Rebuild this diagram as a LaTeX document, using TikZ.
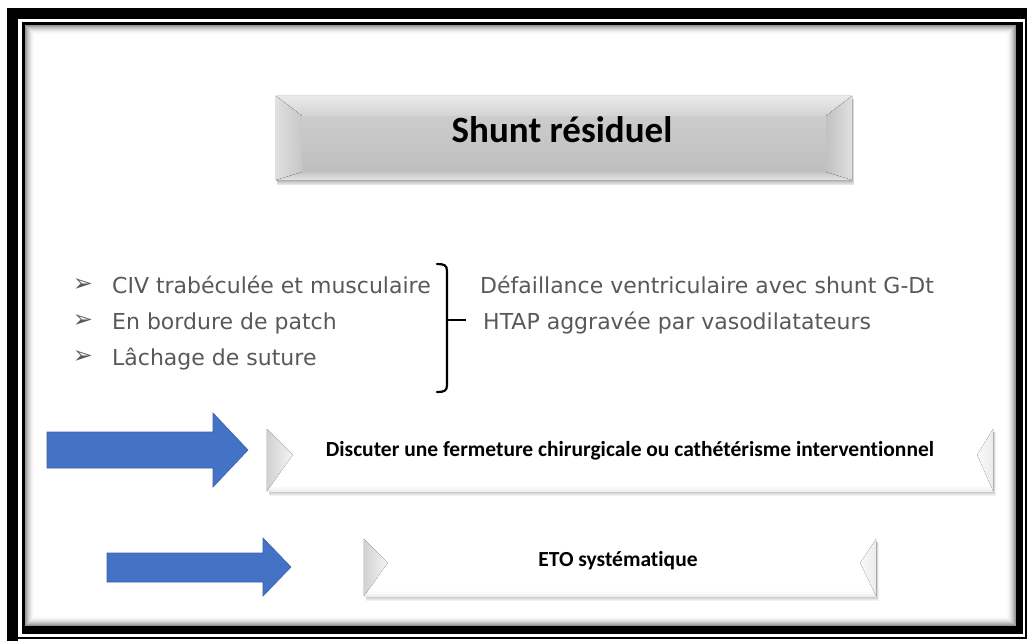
\documentclass[tikz,border=0pt]{standalone}
\usepackage{fontspec}
\newfontfamily\bodyfont{DejaVu Sans}
\newfontfamily\boxfont{Carlito}[Ligatures=NoCommon]
\usetikzlibrary{calc}
\definecolor{arrowblue}{HTML}{4472C4}
\definecolor{arrowedge}{HTML}{3A62AD}
\definecolor{textgray}{HTML}{595959}
\begin{document}
\begin{tikzpicture}[x=1pt,y=-1pt,
  bodytext/.style={font=\bodyfont\fontsize{22}{26}\selectfont, text=textgray, inner sep=0pt, anchor=base west},
  bulletmark/.style={font=\bodyfont\fontsize{24}{26}\selectfont, text=textgray, inner sep=0pt},
  boxtext/.style={font=\boxfont\bfseries\fontsize{21.5}{24}\selectfont, text=black, inner sep=0pt},
  titletext/.style={font=\boxfont\bfseries\fontsize{37}{40}\selectfont, text=black, inner sep=0pt},
  titleface/.style={inner sep=0pt, top color=black!18, bottom color=black!26},
  whiteface/.style={inner sep=0pt, fill=white},
  bluearrow/.style={fill=arrowblue, draw=arrowedge, line width=0.6pt, line join=miter},
  bracestroke/.style={line width=2.2pt, line cap=round, draw=black}
]
\useasboundingbox (0,0) rectangle (1027,641);
\fill[white] (0,0) rectangle (1027,641);

% ---------- frame ----------
\fill[black] (7,8) rectangle (1027,19);
\fill[black] (7,8) rectangle (18,641);
\fill[black] (18,636.5) rectangle (1027,639);
\fill[black] (1025,19) rectangle (1027,639);
\fill[black] (22,22) rectangle (1023,25);
\fill[black] (22,22) rectangle (25,634);
\fill[black] (1016,22) rectangle (1023,634);
\fill[black] (22,626) rectangle (1023,634);
% inner shadow
\foreach \i [evaluate=\i as \op using {0.42*(1-\i/10)^2}] in {0,...,9}
  \draw[black, opacity=\op, line width=1pt] (25.5+\i,25.5+\i) rectangle (1015.5-\i,625.5-\i);

% ---------- title box ----------
\foreach \s in {1,...,6}
  \fill[black, opacity=0.05] (277,99) rectangle (852+0.4*\s,180+0.9*\s);
\node[titleface, minimum width=576, minimum height=84] (title) at (564,138) {};
\fill[top color=black!8, bottom color=black!17] (title.north west) -- (title.north east) -- ($(title.north east)+(-26,20)$) -- ($(title.north west)+(26,20)$) -- cycle;
\fill[left color=black!12, right color=black!22] (title.north west) -- ($(title.north west)+(26,20)$) -- ($(title.south west)+(26,-8)$) -- (title.south west) -- cycle;
\fill[left color=black!24, right color=black!12] (title.north east) -- ($(title.north east)+(-26,20)$) -- ($(title.south east)+(-26,-8)$) -- (title.south east) -- cycle;
\fill[top color=black!22, bottom color=black!10] ($(title.south west)+(26,-8)$) -- ($(title.south east)+(-26,-8)$) -- (title.south east) -- (title.south west) -- cycle;
\node[titletext] (titlelabel) at (562,130) {Shunt résiduel};

% ---------- bullet list ----------
\node[bulletmark] (m1) at (83,285) {➢};
\node[bulletmark] (m2) at (83,321) {➢};
\node[bulletmark] (m3) at (83,357) {➢};
\node[bodytext] (l1) at (112,293) {CIV trabéculée et musculaire};
\node[bodytext] (l2) at (112,329) {En bordure de patch};
\node[bodytext] (l3) at (112,365) {Lâchage de suture};

% brace
\coordinate (btop) at (437,264);
\coordinate (bbot) at (437,392);
\coordinate (bmid) at (447,320);
\coordinate (btick) at (466,320);
\draw[bracestroke] (btop) .. controls (444,264) and (447,265) .. (447,271) -- (447,385) .. controls (447,391) and (444,392) .. (bbot);
\draw[bracestroke, line cap=butt] (bmid) -- (btick);

\node[bodytext] (r1) at (480,293) {Défaillance ventriculaire avec shunt G-Dt};
\node[bodytext] (r2) at (483,329) {HTAP aggravée par vasodilatateurs};

% ---------- arrows ----------
\draw[bluearrow] (47,432) -- (213,432) -- (213,413) -- (248,450) -- (213,487) -- (213,468) -- (47,468) -- cycle;
\draw[bluearrow] (107,553) -- (263,553) -- (263,538) -- (291,567) -- (263,596) -- (263,582) -- (107,582) -- cycle;

% ---------- box 1 ----------
\foreach \s in {1,...,5}
  \fill[black, opacity=0.05] (269,432) rectangle (993+0.5*\s,491+0.9*\s);
\node[whiteface, minimum width=726, minimum height=62] (box1) at (630,460) {};
\fill[top color=white, bottom color=black!7] ($(box1.south west)+(0,-6)$) rectangle (box1.south east);
\fill[left color=black!18, right color=black!4] (box1.north west) -- ($(box1.north west)+(26,26)$) -- (box1.south west) -- cycle;
\fill[left color=black!2, right color=black!8] (box1.north east) -- ($(box1.north east)+(-16,26)$) -- (box1.south east) -- cycle;
\node[boxtext] (t1) at (630,451) {Discuter une fermeture chirurgicale ou cathétérisme interventionnel};

% ---------- box 2 ----------
\foreach \s in {1,...,5}
  \fill[black, opacity=0.05] (366,542) rectangle (876+0.5*\s,596+0.9*\s);
\node[whiteface, minimum width=512, minimum height=57] (box2) at (620,567.5) {};
\fill[top color=white, bottom color=black!7] ($(box2.south west)+(0,-6)$) rectangle (box2.south east);
\fill[left color=black!18, right color=black!4] (box2.north west) -- ($(box2.north west)+(24,24)$) -- (box2.south west) -- cycle;
\fill[left color=black!2, right color=black!8] (box2.north east) -- ($(box2.north east)+(-16,24)$) -- (box2.south east) -- cycle;
\node[boxtext] (t2) at (618,561) {ETO systématique};
\end{tikzpicture}
\end{document}
